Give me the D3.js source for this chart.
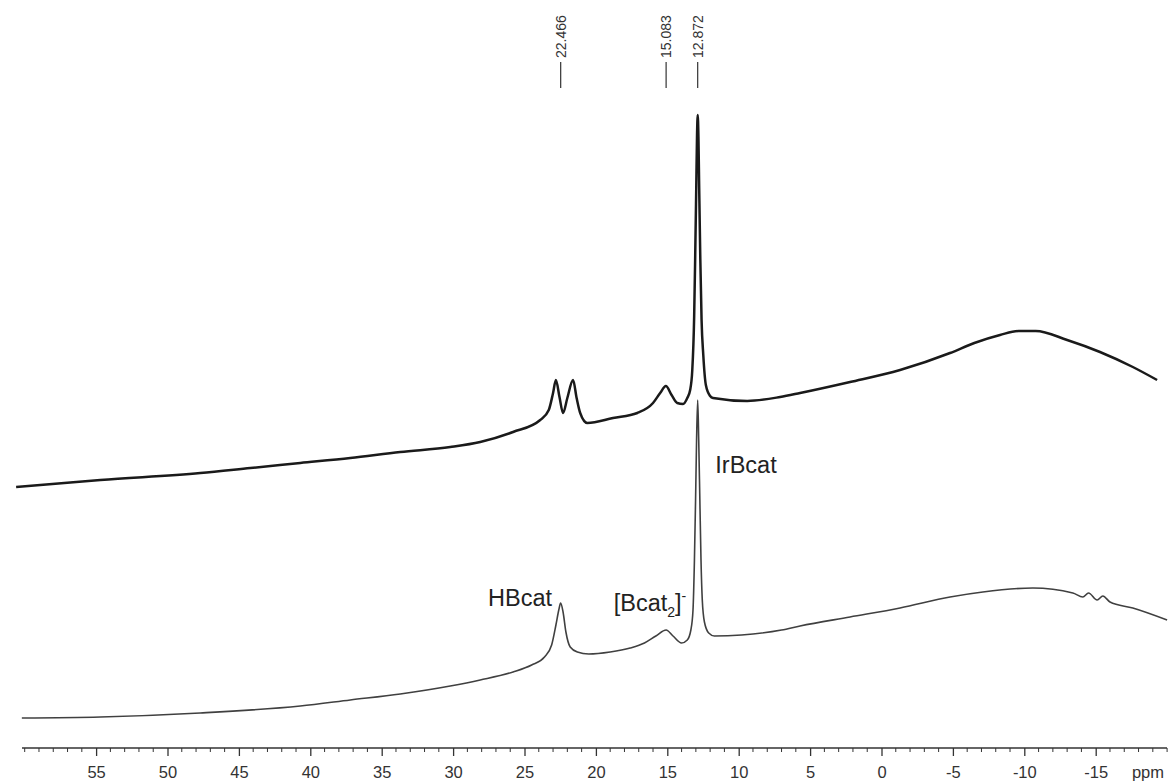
<!DOCTYPE html>
<html>
<head>
<meta charset="utf-8">
<script src="https://cdn.jsdelivr.net/npm/d3@7"></script>
<style>
  html, body { margin: 0; padding: 0; background: #fff; }
  svg { display: block; font-family: "Liberation Sans", Arial, sans-serif; }
</style>
</head>
<body>
<svg id="chart" width="1171" height="783"></svg>
<script>
// ---- data (ppm, intensity in arbitrary units) ----
const topSpectrum = [
  [60.6, 3], [54.7, 10], [47.7, 17], [44.2, 22], [40.7, 27], [37.2, 32], [33.7, 38],
  [30.2, 43], [28.1, 48], [25.8, 58], [23.9, 70], [23.3, 80], [23.0, 97], [22.8, 110],
  [22.55, 93], [22.3, 77], [22.0, 92], [21.6, 110], [21.35, 92], [21.1, 77], [20.6, 67],
  [18.8, 72], [17.1, 77], [16.0, 87], [15.5, 97], [15.1, 104], [14.7, 95], [14.3, 87],
  [13.9, 86], [13.6, 92], [13.4, 100], [13.25, 120], [13.12, 173], [13.05, 230],
  [12.97, 305], [12.92, 353], [12.87, 375], [12.82, 353], [12.77, 305], [12.69, 232],
  [12.6, 170], [12.48, 135], [12.3, 105], [12.0, 94], [11.8, 92], [9.4, 89], [7.1, 93],
  [5.7, 97], [2.2, 108], [-1.3, 120], [-4.8, 137], [-6.5, 147], [-8.3, 155],
  [-9.6, 159], [-10.8, 159], [-13.0, 150], [-15.3, 138], [-17.6, 123], [-19.3, 110]
];
const bottomSpectrum = [
  [60.2, 22], [54.7, 23], [47.7, 27], [40.7, 34], [37.2, 40], [33.7, 46], [30.2, 54],
  [28.1, 60], [25.8, 68], [24.5, 75], [23.6, 83], [23.1, 95], [22.8, 115], [22.6, 130],
  [22.47, 137], [22.3, 128], [22.1, 108], [21.8, 93], [21.3, 88], [20.5, 86], [19.0, 88],
  [17.6, 92], [16.6, 97], [15.8, 104], [15.08, 110], [14.6, 104], [14.0, 97], [13.6, 100],
  [13.35, 110], [13.2, 130], [13.1, 180], [13.02, 240], [12.95, 300], [12.872, 340],
  [12.8, 300], [12.72, 240], [12.64, 180], [12.55, 140], [12.4, 118], [12.1, 107],
  [11.7, 104], [9.8, 105], [7.0, 110], [5.7, 114], [2.2, 123], [-1.3, 132], [-4.8, 143],
  [-7.1, 148], [-10.6, 152], [-13.4, 147], [-14.1, 143], [-14.5, 147], [-15.1, 140],
  [-15.5, 144], [-16.0, 138], [-17.6, 132], [-20.0, 120]
];
const peakLabels = ["22.466", "15.083", "12.872"];
const majorTicks = [55, 50, 45, 40, 35, 30, 25, 20, 15, 10, 5, 0, -5, -10, -15];
const minorTicks = d3.range(60, -21, -1);
const compoundLabels = [
  { text: "HBcat", ppm: 22.466 },
  { text: "[Bcat", sub: "2", sup: "-", ppm: 15.083 },
  { text: "IrBcat", ppm: 12.872 }
];

// ---- layout ----
const svg = d3.select("#chart");
svg.append("rect").attr("width", 1171).attr("height", 783).attr("fill", "#fff");

const x = d3.scaleLinear().domain([60, -20]).range([24.7, 1167.1]);
const yTop = d3.scaleLinear().domain([0, 375]).range([490, 115]);
const yBot = d3.scaleLinear().domain([0, 340]).range([740, 400]);

const lineTop = d3.line().x(d => x(d[0])).y(d => yTop(d[1])).curve(d3.curveMonotoneX);
const lineBot = d3.line().x(d => x(d[0])).y(d => yBot(d[1])).curve(d3.curveMonotoneX);

svg.append("path").datum(topSpectrum).attr("d", lineTop)
  .attr("fill", "none").attr("stroke", "#1a1a1a").attr("stroke-width", 2.5)
  .attr("stroke-linejoin", "round");
svg.append("path").datum(bottomSpectrum).attr("d", lineBot)
  .attr("fill", "none").attr("stroke", "#404040").attr("stroke-width", 1.6)
  .attr("stroke-linejoin", "round");

// ---- axis ----
const axisY = 748;
const gAxis = svg.append("g").attr("transform", `translate(0,${axisY})`);
gAxis.append("line").attr("x1", 22).attr("x2", 1167).attr("y1", 0).attr("y2", 0)
  .attr("stroke", "#333").attr("stroke-width", 1.5);
gAxis.selectAll("line.minor").data(minorTicks.filter(t => !majorTicks.includes(t)))
  .join("line").attr("class", "minor")
  .attr("x1", d => x(d)).attr("x2", d => x(d)).attr("y1", 0).attr("y2", 4)
  .attr("stroke", "#333").attr("stroke-width", 1);
const axisB = d3.axisBottom(x).tickValues(majorTicks).tickSize(8)
  .tickFormat(d => String(d));
const gMaj = svg.append("g").attr("transform", `translate(0,${axisY})`).call(axisB);
gMaj.select(".domain").remove();
gMaj.selectAll(".tick line").attr("stroke", "#333").attr("stroke-width", 1.3);
gMaj.selectAll(".tick text").attr("fill", "#333").attr("font-size", 16.5)
  .attr("y", 30).attr("dy", 0)
  .attr("font-family", "'Liberation Sans', Arial, sans-serif");
svg.append("text").attr("x", 1148).attr("y", axisY + 30).attr("text-anchor", "middle")
  .attr("font-size", 16.5).attr("fill", "#333").text("ppm");

// ---- peak position labels (top) ----
const gPk = svg.append("g");
peakLabels.forEach(lbl => {
  const px = x(+lbl);
  gPk.append("line").attr("x1", px).attr("x2", px).attr("y1", 62).attr("y2", 88)
    .attr("stroke", "#333").attr("stroke-width", 1.2);
  gPk.append("text").attr("transform", `translate(${px},58) rotate(-90)`)
    .attr("dy", "0.36em").attr("font-size", 14).attr("fill", "#333").text(lbl);
});

// ---- compound labels ----
const labelPos = {
  "HBcat": [520, 606],
  "[Bcat": [650, 611],
  "IrBcat": [746, 473]
};
compoundLabels.forEach(c => {
  const p = labelPos[c.text];
  const t = svg.append("text").attr("x", p[0]).attr("y", p[1]).attr("text-anchor", "middle")
    .attr("font-size", 23.5).attr("fill", "#222");
  t.append("tspan").text(c.text);
  if (c.sub) {
    t.append("tspan").attr("font-size", 14).attr("dy", 6).text(c.sub);
    t.append("tspan").attr("font-size", 23.5).attr("dy", -6).text("]");
    t.append("tspan").attr("font-size", 14).attr("dy", -10).text(c.sup);
  }
});
</script>
</body>
</html>
